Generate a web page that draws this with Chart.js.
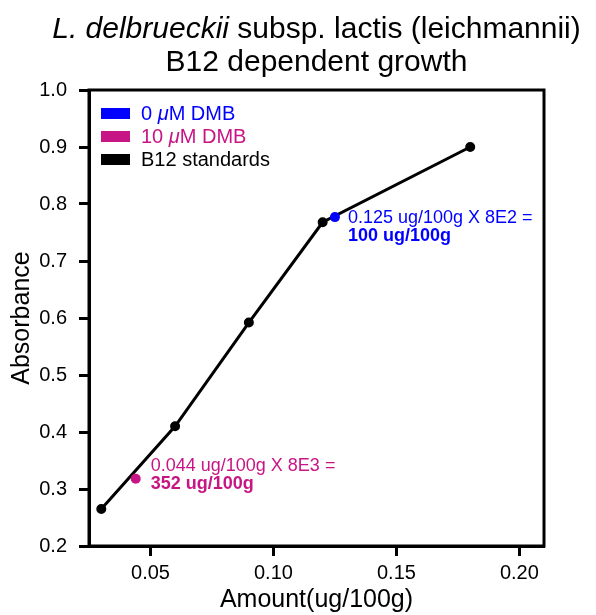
<!DOCTYPE html>
<html>
<head>
<meta charset="utf-8">
<script src="https://cdn.jsdelivr.net/npm/chart.js@4"></script>
<style>
    html, body { margin: 0; padding: 0; background: #fff; }
    canvas { display: block; }
</style>
</head>
<body>
<canvas id="growthChart" width="596" height="615"></canvas>
<script>
// Data
const standardAmount = [0.03, 0.06, 0.09, 0.12, 0.18];
const standardAbs = [0.265, 0.41, 0.592, 0.768, 0.9];
const dmb0Amount = [0.125];
const dmb0Abs = [0.777];
const dmb10Amount = [0.044];
const dmb10Abs = [0.318];
const xTickValues = [0.05, 0.10, 0.15, 0.20];
const yTickValues = [0.2, 0.3, 0.4, 0.5, 0.6, 0.7, 0.8, 0.9, 1.0];

const BLUE = '#0000ff';
const MAGENTA = '#c71585';
const FONT = '"Liberation Sans", Arial, sans-serif';

const toPoints = (xs, ys) => xs.map((x, i) => ({ x: x, y: ys[i] }));

// Frame, title, legend and annotations
const decorations = {
    id: 'decorations',
    afterDraw(chart) {
        const ctx = chart.ctx;
        const area = chart.chartArea;
        const xs = chart.scales.x, ys = chart.scales.y;
        ctx.save();

        // box around the plot
        ctx.strokeStyle = '#000';
        ctx.lineWidth = 3;
        ctx.strokeRect(area.left, area.top, area.right - area.left, area.bottom - area.top);

        // title
        const cx = (area.left + area.right) / 2;
        ctx.fillStyle = '#000';
        ctx.textBaseline = 'middle';
        const parts = [
            ['italic 30px ' + FONT, 'L. delbrueckii'],
            ['30px ' + FONT, ' subsp. lactis (leichmannii)']
        ];
        let total = 0;
        parts.forEach(p => { ctx.font = p[0]; total += ctx.measureText(p[1]).width; });
        let tx = cx - total / 2;
        ctx.textAlign = 'left';
        parts.forEach(p => {
            ctx.font = p[0];
            ctx.fillText(p[1], tx, 30);
            tx += ctx.measureText(p[1]).width;
        });
        ctx.font = '30px ' + FONT;
        ctx.textAlign = 'center';
        ctx.fillText('B12 dependent growth', cx, 63);

        // legend
        const legendRows = [
            { color: BLUE, parts: ['0 ', 'μ', 'M DMB'] },
            { color: MAGENTA, parts: ['10 ', 'μ', 'M DMB'] },
            { color: '#000', parts: ['B12 standards'] }
        ];
        ctx.textAlign = 'left';
        legendRows.forEach((row, i) => {
            const y = 113 + i * 23;
            ctx.fillStyle = row.color;
            ctx.fillRect(101, y - 5, 29, 11);
            let lx = 141;
            row.parts.forEach((t, j) => {
                ctx.font = (j === 1 ? 'italic ' : '') + '20px ' + FONT;
                ctx.fillText(t, lx, y + 1);
                lx += ctx.measureText(t).width;
            });
        });

        // annotations next to the sample points
        const notes = [
            { color: BLUE, x: dmb0Amount[0], y: dmb0Abs[0], dx: 13, dy: 1, line1: '0.125 ug/100g X 8E2 =', line2: '100 ug/100g' },
            { color: MAGENTA, x: dmb10Amount[0], y: dmb10Abs[0], dx: 15, dy: -13, line1: '0.044 ug/100g X 8E3 =', line2: '352 ug/100g' }
        ];
        notes.forEach(n => {
            const px = xs.getPixelForValue(n.x);
            const py = ys.getPixelForValue(n.y);
            ctx.fillStyle = n.color;
            ctx.font = '18px ' + FONT;
            ctx.fillText(n.line1, px + n.dx, py + n.dy);
            ctx.font = 'bold 18px ' + FONT;
            ctx.fillText(n.line2, px + n.dx, py + n.dy + 18);
        });

        ctx.restore();
    }
};

const ctx = document.getElementById('growthChart').getContext('2d');
const growthChart = new Chart(ctx, {
    type: 'scatter',
    data: {
        datasets: [{
            label: 'B12 standards',
            data: toPoints(standardAmount, standardAbs),
            showLine: true,
            borderColor: '#000',
            backgroundColor: '#000',
            borderWidth: 3,
            pointRadius: 3.5,
            pointHoverRadius: 3.5,
            order: 2
        }, {
            label: '0 μM DMB',
            data: toPoints(dmb0Amount, dmb0Abs),
            borderColor: BLUE,
            backgroundColor: BLUE,
            pointRadius: 5,
            pointBorderWidth: 0,
            order: 1
        }, {
            label: '10 μM DMB',
            data: toPoints(dmb10Amount, dmb10Abs),
            borderColor: MAGENTA,
            backgroundColor: MAGENTA,
            pointRadius: 5,
            pointBorderWidth: 0,
            order: 1
        }]
    },
    options: {
        responsive: false,
        animation: false,
        devicePixelRatio: 1,
        layout: { padding: { top: 90, right: 52, left: 0, bottom: 0 } },
        plugins: {
            legend: { display: false },
            tooltip: { enabled: false }
        },
        scales: {
            x: {
                type: 'linear',
                min: 0.025,
                max: 0.21,
                afterFit: s => { s.height = 69; },
                afterBuildTicks: s => { s.ticks = xTickValues.map(v => ({ value: v })); },
                border: { display: true, color: '#000', width: 3 },
                grid: { drawOnChartArea: false, drawTicks: true, tickLength: 10, tickWidth: 3, tickColor: '#000' },
                ticks: {
                    color: '#000',
                    padding: 5,
                    maxRotation: 0,
                    font: { family: FONT, size: 20 },
                    callback: v => v.toFixed(2)
                },
                title: {
                    display: true,
                    text: 'Amount(ug/100g)',
                    color: '#000',
                    font: { family: FONT, size: 25 },
                    padding: { top: 0, bottom: 0 }
                }
            },
            y: {
                type: 'linear',
                min: 0.2,
                max: 1.0,
                afterFit: s => { s.width = 89; },
                afterBuildTicks: s => { s.ticks = yTickValues.map(v => ({ value: v })); },
                border: { display: true, color: '#000', width: 3 },
                grid: { drawOnChartArea: false, drawTicks: true, tickLength: 10, tickWidth: 3, tickColor: '#000' },
                ticks: {
                    color: '#000',
                    padding: 12,
                    font: { family: FONT, size: 20 },
                    callback: v => v.toFixed(1)
                },
                title: {
                    display: true,
                    text: 'Absorbance',
                    color: '#000',
                    font: { family: FONT, size: 25 },
                    padding: { top: 7, bottom: 0 }
                }
            }
        }
    },
    plugins: [decorations]
});
</script>
</body>
</html>
